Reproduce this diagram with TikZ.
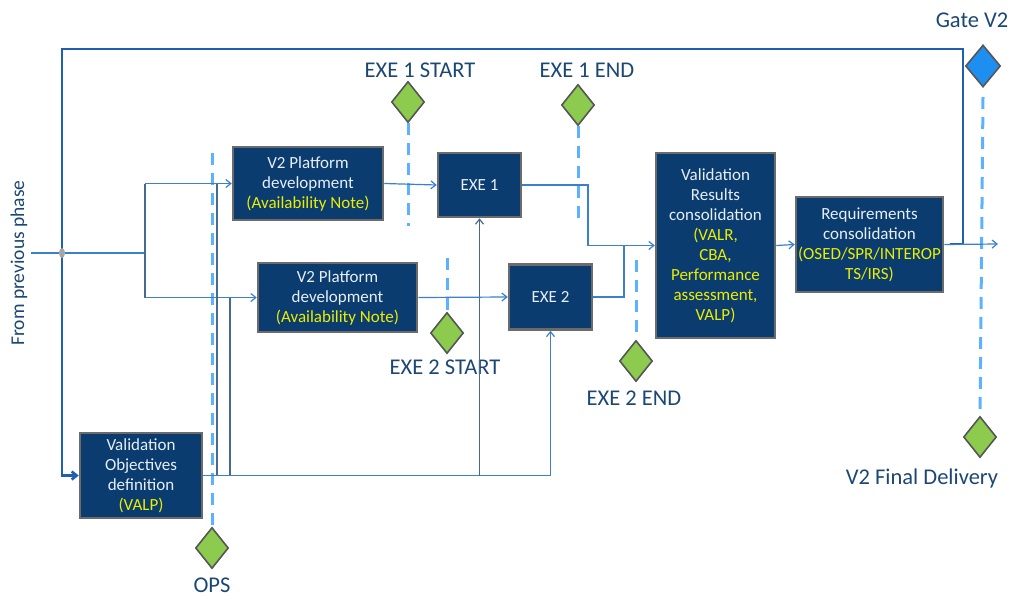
\documentclass[tikz,border=0pt]{standalone}
\usepackage{fontspec}
\setmainfont{Carlito}
\usetikzlibrary{shapes.geometric,arrows.meta}
\definecolor{boxfill}{HTML}{0A3C70}
\definecolor{boxedge}{HTML}{6B6B6B}
\definecolor{boxtext}{HTML}{E8EEF5}
\definecolor{yel}{HTML}{EDED00}
\definecolor{lbl}{HTML}{1B4775}
\definecolor{flowc}{HTML}{3A80CC}
\definecolor{vertc}{HTML}{46698F}
\definecolor{outerc}{HTML}{1F5FAE}
\definecolor{dashc}{HTML}{5CB2FF}
\definecolor{greenc}{HTML}{8CCB4E}
\definecolor{bluec}{HTML}{1E8EF0}
\begin{document}
\begin{tikzpicture}[x=1pt,y=-1pt,
  box/.style={draw=boxedge, line width=2.5pt, fill=boxfill, text=boxtext, align=center,
    font=\fontsize{17}{20}\selectfont, inner sep=0pt},
  gem/.style={diamond, draw=boxedge!80!black, line width=1.6pt, fill=greenc, inner sep=0pt,
    minimum width=33pt, minimum height=41pt},
  flow/.style={draw=flowc, line width=1.2pt},
  vflow/.style={draw=vertc, line width=1.2pt},
  outer/.style={draw=outerc, line width=2.6pt},
  tip/.style={-{Straight Barb[length=5pt,width=8pt]}},
  dashline/.style={draw=dashc, line width=3pt, dash pattern=on 12pt off 8pt},
  lab/.style={text=lbl, font=\fontsize{22.5}{26}\selectfont, inner sep=0pt}]
\useasboundingbox (0,0) rectangle (1012,597);

% boxes
\node[box, minimum width=150pt, minimum height=73pt] (p1) at (308,183.5)
  {V2 Platform\\development\\\textcolor{yel}{(Availability Note)}};
\node[box, minimum width=83pt, minimum height=64pt] (e1) at (479.5,185) {EXE 1};
\node[box, minimum width=159pt, minimum height=69pt] (p2) at (337.5,297.5)
  {V2 Platform\\development\\\textcolor{yel}{(Availability Note)}};
\node[box, minimum width=83pt, minimum height=65pt] (e2) at (550.5,297) {EXE 2};
\node[box, minimum width=119pt, minimum height=185pt] (vr) at (715.5,245.5)
  {Validation\\Results\\consolidation\\\textcolor{yel}{(VALR,}\\\textcolor{yel}{CBA,}\\\textcolor{yel}{Performance}\\\textcolor{yel}{assessment,}\\\textcolor{yel}{VALP)}};
\node[box, minimum width=147pt, minimum height=95pt] (rq) at (869.5,244.5)
  {Requirements\\consolidation\\\textcolor{yel}{(OSED/SPR/INTEROP}\\\textcolor{yel}{TS/IRS)}};
\node[box, minimum width=122pt, minimum height=85pt] (vo) at (141,475.5)
  {Validation\\Objectives\\definition\\\textcolor{yel}{(VALP)}};

% diamonds
\node[gem] (ops) at (212,548) {};
\node[gem] (s1) at (408,102) {};
\node[gem] (en1) at (578,105) {};
\node[gem] (s2) at (447,333) {};
\node[gem] (en2) at (636,361) {};
\node[gem, fill=bluec, minimum width=35pt, minimum height=42pt] (gate) at (983,66) {};
\node[gem] (fd) at (980,437) {};

% labels
\node[lab] (lops) at (212,585) {OPS};
\node[lab] (ls1) at (420,70) {EXE 1 START};
\node[lab] (len1) at (587,70) {EXE 1 END};
\node[lab] (ls2) at (445,367) {EXE 2 START};
\node[lab] (len2) at (634,398) {EXE 2 END};
\node[lab] (lgate) at (972,20) {Gate V2};
\node[lab] (lfd) at (922,478) {V2 Final Delivery};
\node[lab, rotate=90, font=\fontsize{19.5}{22}\selectfont] (lfrom) at (19,263) {From previous phase};

% coordinates
\coordinate (in) at (31,253);
\coordinate (j) at (62,253);
\coordinate (split) at (145,253);
\coordinate (top) at (62,49);
\coordinate (join) at (963,244);
\coordinate (out) at (998,244);
\coordinate (m1) at (588,245.5);
\coordinate (m2) at (624,245.5);
\coordinate (va) at (217,183.5);
\coordinate (vb) at (230,297.5);

% dashed milestone lines
\draw[dashline] (212,153) -- (ops.north);
\draw[dashline] (s1.south) -- (408,226);
\draw[dashline] (en1.south) -- (578,222);
\draw[dashline] (447,258) -- (s2.north);
\draw[dashline] (636,260) -- (en2.north);
\draw[dashline] (983,97) -- (fd.north);

% outer loop
\draw[outer, tip] (j) |- (vo.west);
\draw[outer] (j) -- (top) -| (join) -- (950,244);

% input and split
\draw[flow] (in) -- (split);
\draw[vflow] (split |- p1.west) -- (split |- p2.west);
\draw[flow, tip] (split |- p1.west) -- (p1.west);
\draw[flow, tip] (split |- p2.west) -- (p2.west);
\draw[vflow] (va) -- (va |- vo.east);
\draw[vflow] (vb) -- (vb |- vo.east);

% VO output
\draw[flow, tip] (vo.east) -| (e2.south);
\draw[vflow, tip] (e1.south |- vo.east) -- (e1.south);

% platform to exe
\draw[flow, tip] (p1.east) -- (e1.west);
\draw[flow, tip] (p2.east) -- (e2.west);

% exe to validation results
\draw[flow] (e1.east) -| (m1);
\draw[flow, tip] (m1) -- (vr.west);
\draw[flow] (e2.east) -| (m2);

% to requirements and output
\draw[flow, tip] (vr.east) -- (rq.west);
\draw[flow, tip] (rq.east) -- (out);

% junction
\node[ellipse, fill=gray!70, inner sep=0pt, minimum width=6pt, minimum height=10pt] (jn) at (j) {};
\end{tikzpicture}
\end{document}
